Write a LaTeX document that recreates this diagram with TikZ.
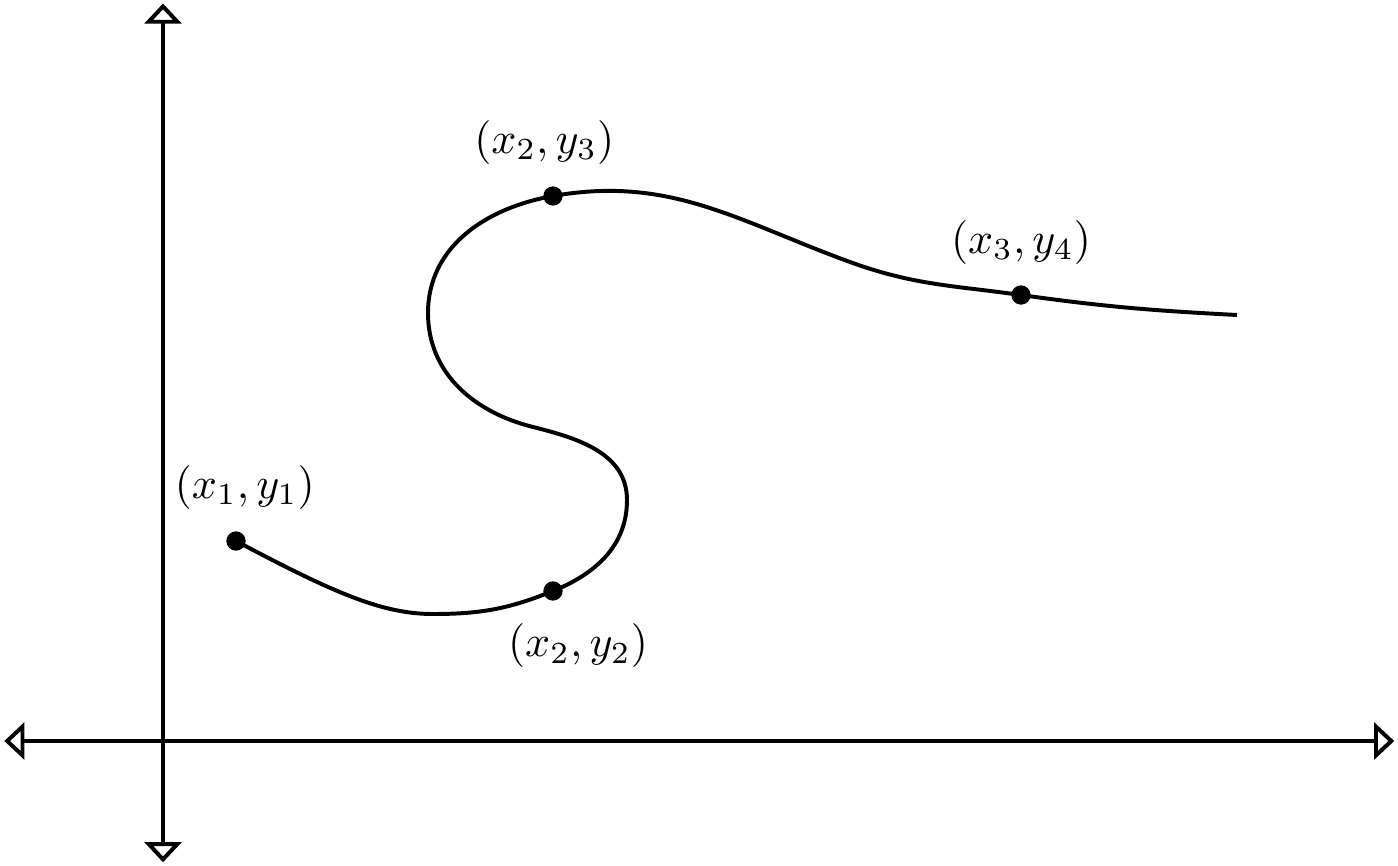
\documentclass[tikz,border=0pt]{standalone}
\usetikzlibrary{arrows.meta,positioning}

\begin{document}
\begin{tikzpicture}[line width=0.9pt,
  axis/.style={{Triangle[open,length=4.6pt,width=8.4pt]}-{Triangle[open,length=4.6pt,width=8.4pt]}},
  dot/.style={fill=black},
  lbl/.style={inner sep=3.33pt}]

\useasboundingbox (-1.304,-0.992) rectangle (9.88,5.928);

% axes
\draw[axis] (-1.27,0) -- (9.85,0);
\draw[axis] (0,-0.97) -- (0,5.9);

% marked points
\coordinate (p1) at (0.584,1.6);
\coordinate (p2) at (3.12,1.2);
\coordinate (p3) at (3.12,4.36);
\coordinate (p4) at (6.864,3.568);

% the curve
\draw (p1) .. controls +(-28:0.9) and +(180:0.4) .. (2.16,1.016)
  to[out=0,in=202] (p2)
  to[out=22,in=-90] (3.712,1.928) to[out=90,in=-14] (2.96,2.512)
  to[out=166,in=-90] (2.12,3.424) to[out=90,in=190] (p3)
  to[out=10,in=160] (5.496,3.832) to[out=-20,in=172] (p4)
  to[out=-8,in=177] (8.592,3.408);

\fill[dot] (p1) circle (2.2pt);
\fill[dot] (p2) circle (2.2pt);
\fill[dot] (p3) circle (2.2pt);
\fill[dot] (p4) circle (2.2pt);

\node[lbl, above=3.5pt of p1, xshift=2pt] (l1) {$(x_1,y_1)$};
\node[lbl, below=3.7pt of p2, xshift=5.7pt] (l2) {$(x_2,y_2)$};
\node[lbl, above=3.5pt of p3, xshift=-2pt] (l3) {$(x_2,y_3)$};
\node[lbl, above=3.2pt of p4] (l4) {$(x_3,y_4)$};

\end{tikzpicture}
\end{document}
